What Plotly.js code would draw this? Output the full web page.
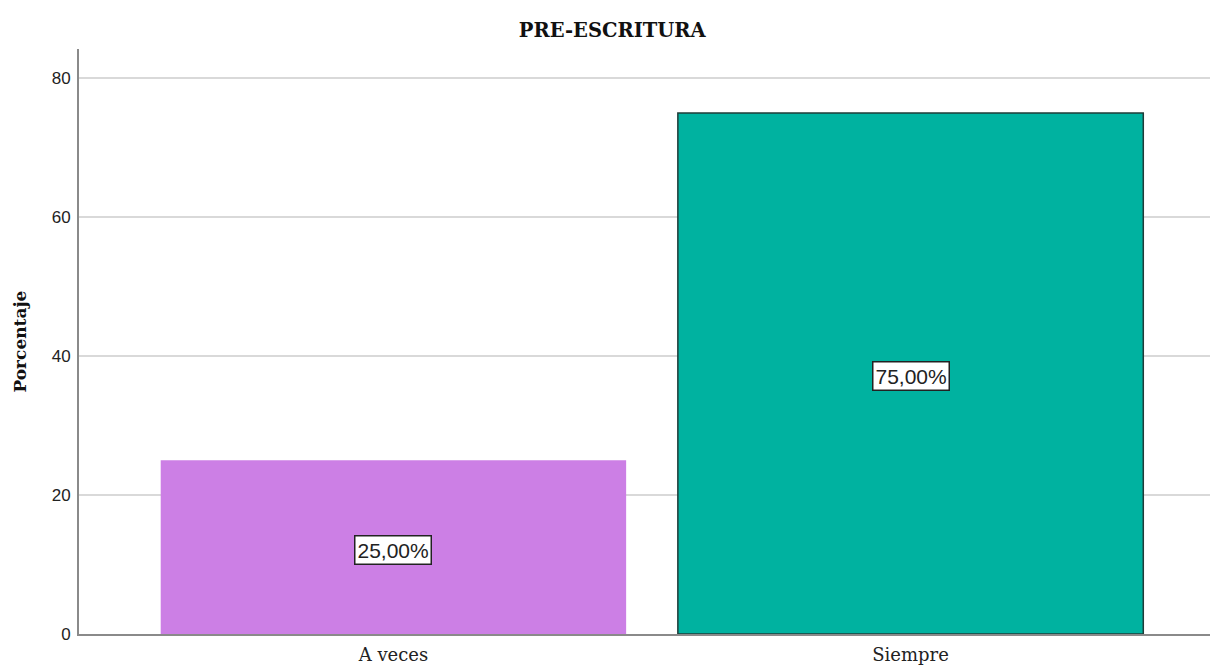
<!DOCTYPE html>
<html>
<head>
<meta charset="utf-8">
<script src="https://cdn.plot.ly/plotly-3.0.1.min.js"></script>
<style>html,body{margin:0;padding:0;background:#fff;}#chart{width:1210px;height:668px;}</style>
</head>
<body>
<div id="chart"></div>
<script>
const categories = ["A veces", "Siempre"];
const percentages = [25.0, 75.0];
const labels = ["25,00%", "75,00%"];
const barColors = ["#cc7fe5", "#00b2a0"];
const barLineColors = ["#cc7fe5", "#1f3c38"];
const barLineWidths = [0, 1.5];
const yTicks = [0, 20, 40, 60, 80];

const serif = "DejaVu Serif, Georgia, serif";
const sans = "Liberation Sans, Arial, sans-serif";

const trace = {
  type: "bar",
  x: [0, 1],
  y: percentages,
  width: 0.9,
  marker: {color: barColors, line: {color: barLineColors, width: barLineWidths}},
  hoverinfo: "none"
};

const annotations = percentages.map((v, i) => ({
  x: i, y: v / 2, xref: "x", yref: "y", yshift: -3,
  text: labels[i], showarrow: false,
  font: {family: sans, size: 21, color: "#222"},
  bgcolor: "#ffffff", bordercolor: "#222", borderwidth: 1.5, borderpad: 2
}));

annotations.push({
  xref: "paper", yref: "paper", x: -0.053, y: 0.5, xanchor: "center", yanchor: "middle",
  textangle: -90, showarrow: false, text: "<b>Porcentaje</b>",
  font: {family: serif, size: 17, color: "#111"}
});

const layout = {
  width: 1210, height: 668,
  margin: {l: 79, r: 0, t: 49, b: 34},
  paper_bgcolor: "#fff", plot_bgcolor: "#fff",
  showlegend: false,
  title: {text: "<b>PRE-ESCRITURA</b>", xref: "container", yref: "container",
    x: 0.506, xanchor: "center", y: 0.955, yanchor: "middle",
    font: {family: serif, size: 19.5, color: "#111"}},
  xaxis: {
    range: [-0.608, 1.579], tickvals: [0, 1], ticktext: categories,
    showgrid: false, zeroline: false, showline: true, linecolor: "#8a8a8a", linewidth: 2,
    ticks: "", ticklabelstandoff: 3,
    tickfont: {family: serif, size: 18, color: "#222"}
  },
  yaxis: {
    range: [0, 84.2], tickvals: yTicks, ticktext: yTicks.map(String),
    showgrid: true, gridcolor: "#d9d9d9", gridwidth: 2, zeroline: false,
    showline: true, linecolor: "#8a8a8a", linewidth: 2, ticks: "", ticklabelstandoff: 3,
    tickfont: {family: sans, size: 17, color: "#222"}
  },
  annotations: annotations
};

Plotly.newPlot("chart", [trace], layout, {displayModeBar: false, staticPlot: true});
</script>
</body>
</html>
